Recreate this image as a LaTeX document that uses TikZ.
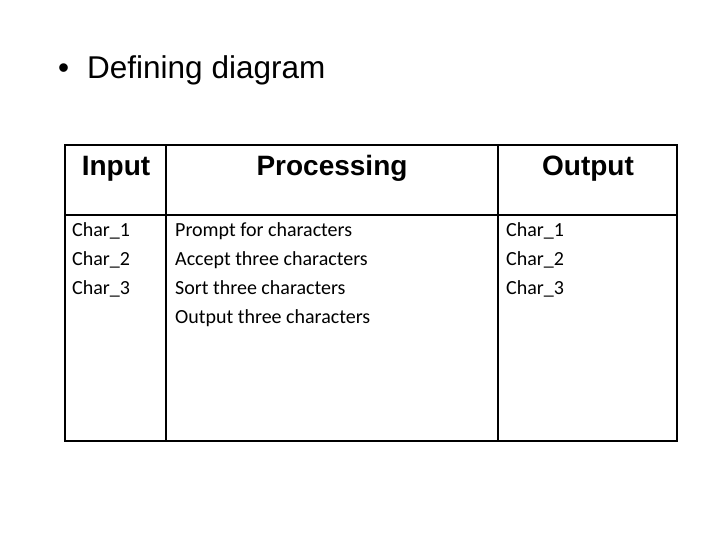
\documentclass[tikz,border=0pt]{standalone}
\usepackage{fontspec}
\setmainfont{Liberation Sans}
\newfontfamily\bodyfont{Carlito}
\usetikzlibrary{positioning}
\tikzset{
  head/.style={font=\fontsize{28}{32}\selectfont\bfseries, anchor=base},
  cell/.style={font=\bodyfont\fontsize{20}{29}\selectfont, anchor=north west, align=left, inner sep=0pt},
}
\begin{document}
\begin{tikzpicture}[x=1pt,y=-1pt]
    \useasboundingbox (0,0) rectangle (720,540);

    % Titre
    \node[anchor=base west, font=\fontsize{31.5}{36}\selectfont, inner sep=0pt] (title) at (58,79) {\textbullet\hspace{18pt}Defining diagram};

    % Tableau
    \draw[line width=2pt] (65,145) rectangle (677,441);
    \draw[line width=1.5pt] (65,215) -- (677,215);
    \draw[line width=1.5pt] (166,145) -- (166,441);
    \draw[line width=1.5pt] (498,145) -- (498,441);

    % En-têtes
    \node[head] (hin) at (116,176) {Input};
    \node[head] (hproc) at (332,176) {Processing};
    \node[head] (hout) at (588,176) {Output};

    % Contenu
    \node[cell] (cin) at (72,222) {Char\_1\\Char\_2\\Char\_3};
    \node[cell] (cproc) at (175,222) {Prompt for characters\\Accept three characters\\Sort three characters\\Output three characters};
    \node[cell] (cout) at (506,222) {Char\_1\\Char\_2\\Char\_3};
\end{tikzpicture}
\end{document}
